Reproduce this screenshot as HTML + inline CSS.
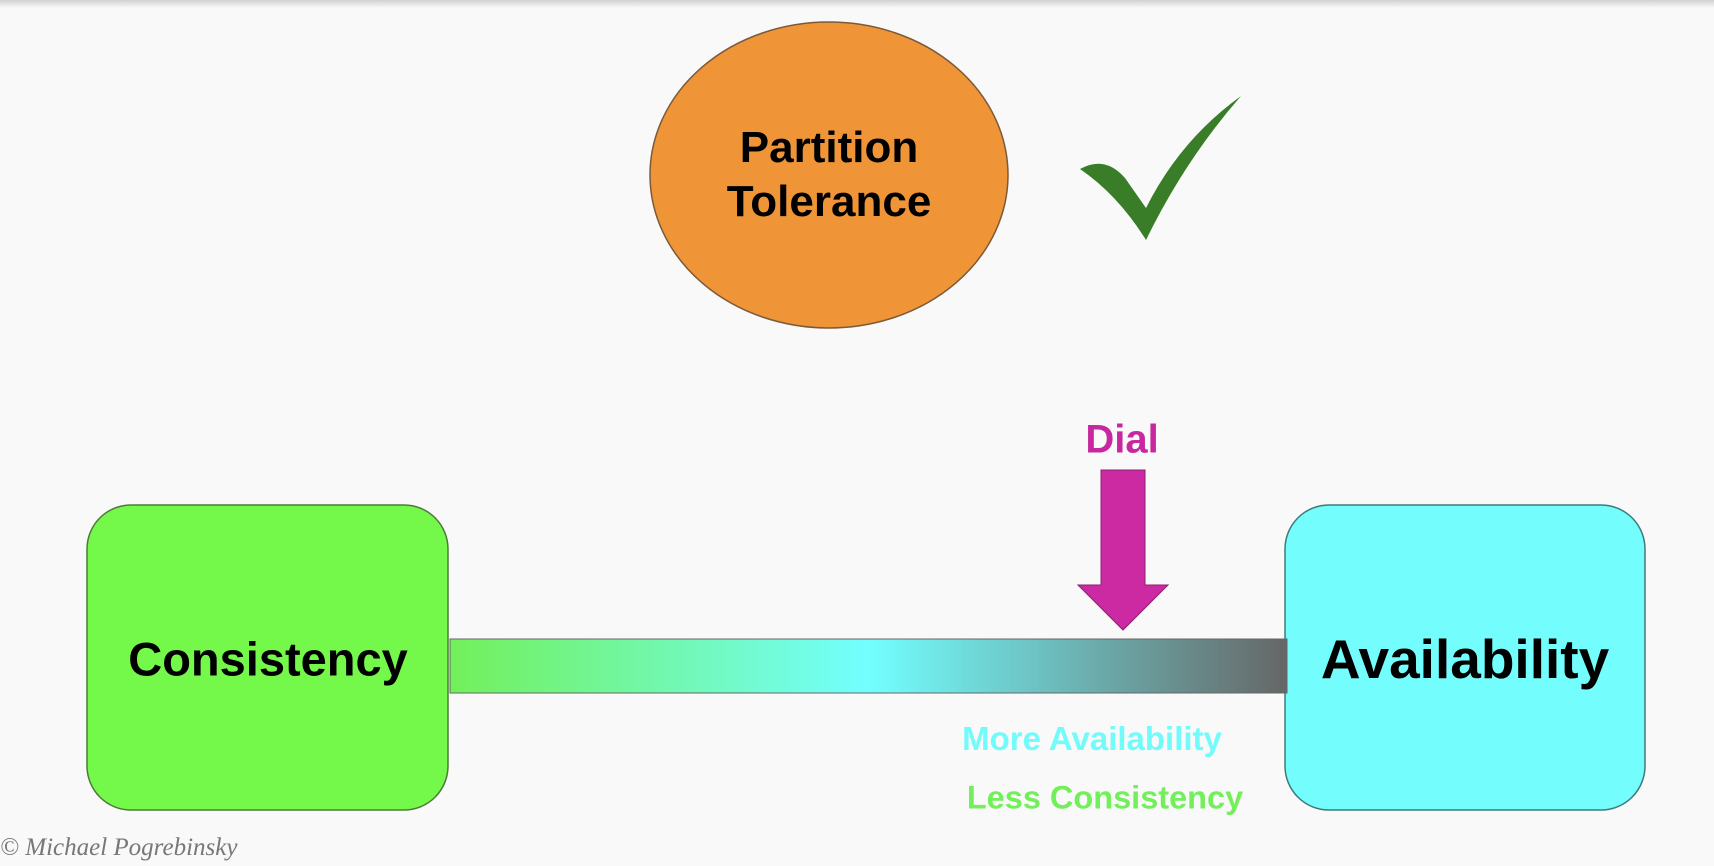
<!DOCTYPE html>
<html><head><style>
html,body{margin:0;padding:0}
body{width:1714px;height:866px;background:#f9f9f9;position:relative;overflow:hidden;font-family:"Liberation Sans",sans-serif}
.t{position:absolute;font-weight:bold;white-space:nowrap;transform:translate(-50%,-50%)}
</style></head><body>
<div style="position:absolute;left:0;top:0;width:1714px;height:8px;background:linear-gradient(#d0d0d0,#f9f9f9)"></div>
<svg width="1714" height="866" style="position:absolute;left:0;top:0">
<defs><linearGradient id="g" x1="0" x2="1" y1="0" y2="0">
<stop offset="0" stop-color="#72f05a"/><stop offset="0.5" stop-color="#72ffff"/><stop offset="1" stop-color="#666666"/></linearGradient></defs>
<ellipse cx="829" cy="175" rx="179" ry="153" fill="#ef9537" stroke="#7a5a3a" stroke-width="1.5"/>
<path d="M1080,169 Q1105,155 1125,178 L1146,208 Q1180,140 1241,96 Q1185,160 1146,240 Q1118,195 1080,169 Z" fill="#3a7d28"/>
<rect x="87" y="505" width="361" height="305" rx="44" fill="#74f94b" stroke="#4d7a3a" stroke-width="1.5"/>
<rect x="1285" y="505" width="360" height="305" rx="44" fill="#74fdfd" stroke="#3f7a7a" stroke-width="1.5"/>
<rect x="450" y="639" width="837" height="54" fill="url(#g)" stroke="#666" stroke-width="1"/>
<path d="M1101,470 H1145 V585 H1168 L1123,630 L1078,585 H1101 Z" fill="#cc2aa3" stroke="#8a2070" stroke-width="1"/>
</svg>
<div class="t" style="left:829px;top:148px;font-size:44px">Partition</div>
<div class="t" style="left:829px;top:202px;font-size:44px">Tolerance</div>
<div class="t" style="left:268px;top:659px;font-size:47px">Consistency</div>
<div class="t" style="left:1465px;top:659px;font-size:55px">Availability</div>
<div class="t" style="left:1122px;top:440px;font-size:40px;color:#c8289f">Dial</div>
<div class="t" style="left:1092px;top:739px;font-size:33px;color:#72fbfb">More Availability</div>
<div class="t" style="left:1105px;top:798px;font-size:32.5px;color:#72f05a">Less Consistency</div>
<div style="position:absolute;left:0;top:834px;font-family:'Liberation Serif',serif;font-style:italic;font-size:25px;color:#777">© Michael Pogrebinsky</div>
</body></html>
